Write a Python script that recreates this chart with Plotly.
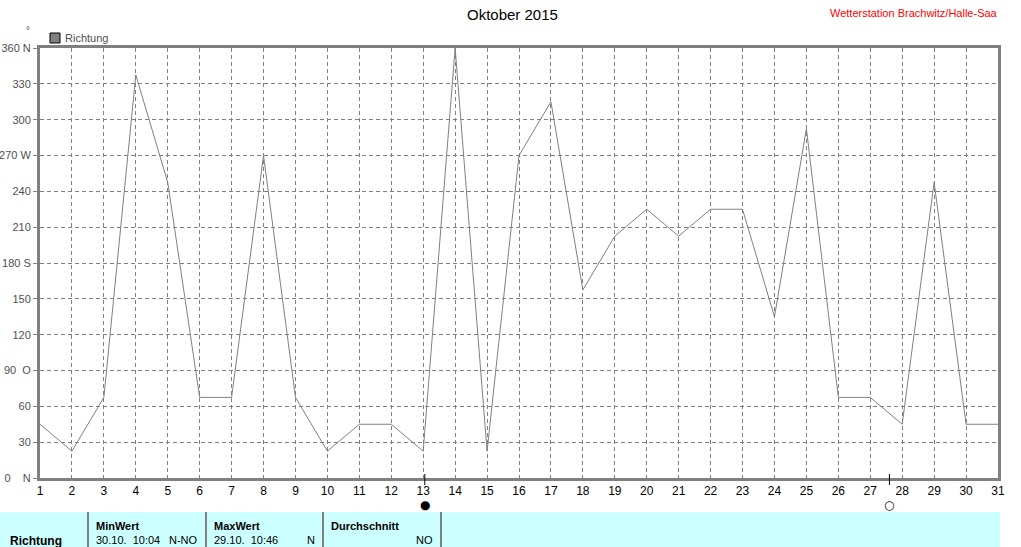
import plotly.graph_objects as go

# Windrichtung Tageswerte Oktober 2015 (Grad)
tage = list(range(1, 32))
richtung = [45, 22.5, 67.5, 337.5, 247.5, 67.5, 67.5, 270, 67.5, 22.5,
            45, 45, 22.5, 360, 22.5, 270, 315, 157.5, 202.5, 225,
            202.5, 225, 225, 135, 292.5, 67.5, 67.5, 45, 247.5, 45, 45]

y_ticks = [0, 30, 60, 90, 120, 150, 180, 210, 240, 270, 300, 330, 360]
y_labels = ["0\u00a0\u00a0\u00a0\u00a0N", "30", "60", "90\u00a0\u00a0O", "120", "150",
            "180\u00a0S", "210", "240", "270\u00a0W", "300", "330", "360\u00a0N"]

# Mondphasen: Neumond 13.10., Vollmond 27.10.
mond_tage = [13.05, 27.6]
mond_symbole = ["\u25cf", "\u25cb"]

# Tabelle unten
tab_titel = ["MinWert", "MaxWert", "Durchschnitt"]
tab_zeit = ["30.10.  10:04", "29.10.  10:46", ""]
tab_wert = ["N-NO", "N", "NO"]

W, H = 1021, 547
L, R, T, B = 40, 998, 48, 478
GRAU = "#808080"


def px(xp):
    return (xp - L) / (R - L)


def py(yp):
    return (B - yp) / (B - T)


fig = go.Figure()
fig.add_trace(go.Scatter(x=tage, y=richtung, mode="lines",
                         line=dict(color=GRAU, width=1), name="Richtung",
                         showlegend=False, hoverinfo="x+y"))

fig.update_xaxes(range=[1, 31], tickvals=tage, ticktext=[str(t) for t in tage],
                 showgrid=True, gridcolor=GRAU, griddash="4px,3px", gridwidth=1,
                 showline=True, linecolor=GRAU, linewidth=3, mirror=True,
                 ticks="", zeroline=False, automargin=False,
                 tickfont=dict(family="Liberation Sans", size=12, color="black"))
fig.update_yaxes(range=[0, 360], tickvals=y_ticks, ticktext=y_labels,
                 showgrid=True, gridcolor=GRAU, griddash="4px,3px", gridwidth=1,
                 showline=True, linecolor=GRAU, linewidth=3, mirror=True,
                 ticks="outside", ticklen=4, tickcolor=GRAU, zeroline=False,
                 automargin=False,
                 tickfont=dict(family="Liberation Sans", size=11, color="#505050"))

shapes = []
annotations = []

# Legende
shapes.append(dict(type="rect", xref="paper", yref="paper",
                   x0=px(50), x1=px(60), y0=py(43), y1=py(33),
                   fillcolor=GRAU, line=dict(color="black", width=1)))
annotations.append(dict(text="Richtung", xref="paper", yref="paper",
                        x=px(63), y=py(38), xanchor="left", yanchor="middle",
                        showarrow=False,
                        font=dict(family="Liberation Sans", size=11, color="#505050")))
annotations.append(dict(text="\u00b0", xref="paper", yref="paper",
                        x=px(28), y=py(30), xanchor="center", yanchor="middle",
                        showarrow=False,
                        font=dict(family="Liberation Sans", size=10, color="#505050")))

# Titel und Station
annotations.append(dict(text="Oktober 2015", xref="paper", yref="paper",
                        x=px(512), y=py(15), xanchor="center", yanchor="middle",
                        showarrow=False,
                        font=dict(family="Liberation Sans", size=15, color="black")))
annotations.append(dict(text="Wetterstation Brachwitz/Halle-Saa", xref="paper", yref="paper",
                        x=px(1000), y=py(13), xanchor="right", yanchor="middle",
                        showarrow=False,
                        font=dict(family="Liberation Sans", size=11, color="red")))

# Mondphasen
for t, s in zip(mond_tage, mond_symbole):
    shapes.append(dict(type="line", xref="x", yref="paper", x0=t, x1=t,
                       y0=py(474), y1=py(485), line=dict(color="black", width=1)))
    annotations.append(dict(text=s, xref="x", yref="paper", x=t, y=py(505),
                            xanchor="center", yanchor="middle", showarrow=False,
                            font=dict(family="DejaVu Sans", size=12, color="black")))

# Tabelle
shapes.append(dict(type="rect", xref="paper", yref="paper",
                   x0=px(0), x1=px(1000), y0=py(550), y1=py(512),
                   fillcolor="#ccffff", line=dict(width=0), layer="below"))
spalten = [88, 206, 323, 441]
for xs in spalten:
    shapes.append(dict(type="line", xref="paper", yref="paper", x0=px(xs), x1=px(xs),
                       y0=py(550), y1=py(512), line=dict(color=GRAU, width=2)))
annotations.append(dict(text="<b>Richtung</b>", xref="paper", yref="paper",
                        x=px(8), y=py(541), xanchor="left", yanchor="middle",
                        showarrow=False,
                        font=dict(family="Liberation Sans", size=12, color="black")))
for i in range(3):
    x0 = spalten[i]
    x1 = spalten[i + 1]
    annotations.append(dict(text="<b>" + tab_titel[i] + "</b>", xref="paper", yref="paper",
                            x=px(x0 + 6), y=py(526), xanchor="left", yanchor="middle",
                            showarrow=False,
                            font=dict(family="Liberation Sans", size=11, color="black")))
    if tab_zeit[i]:
        annotations.append(dict(text=tab_zeit[i].replace(" ", "\u00a0"), xref="paper", yref="paper",
                                x=px(x0 + 6), y=py(540), xanchor="left", yanchor="middle",
                                showarrow=False,
                                font=dict(family="Liberation Sans", size=11, color="black")))
    annotations.append(dict(text=tab_wert[i], xref="paper", yref="paper",
                            x=px(x1 - 6), y=py(540), xanchor="right", yanchor="middle",
                            showarrow=False,
                            font=dict(family="Liberation Sans", size=11, color="black")))

fig.update_layout(width=W, height=H,
                  margin=dict(l=L, r=W - R, t=T, b=H - B, pad=0),
                  paper_bgcolor="white", plot_bgcolor="white",
                  shapes=shapes, annotations=annotations,
                  font=dict(family="Liberation Sans"))

fig.write_html("out.html", config={"displayModeBar": False},
               post_script="document.body.style.margin='0';document.body.style.overflow='hidden';")
